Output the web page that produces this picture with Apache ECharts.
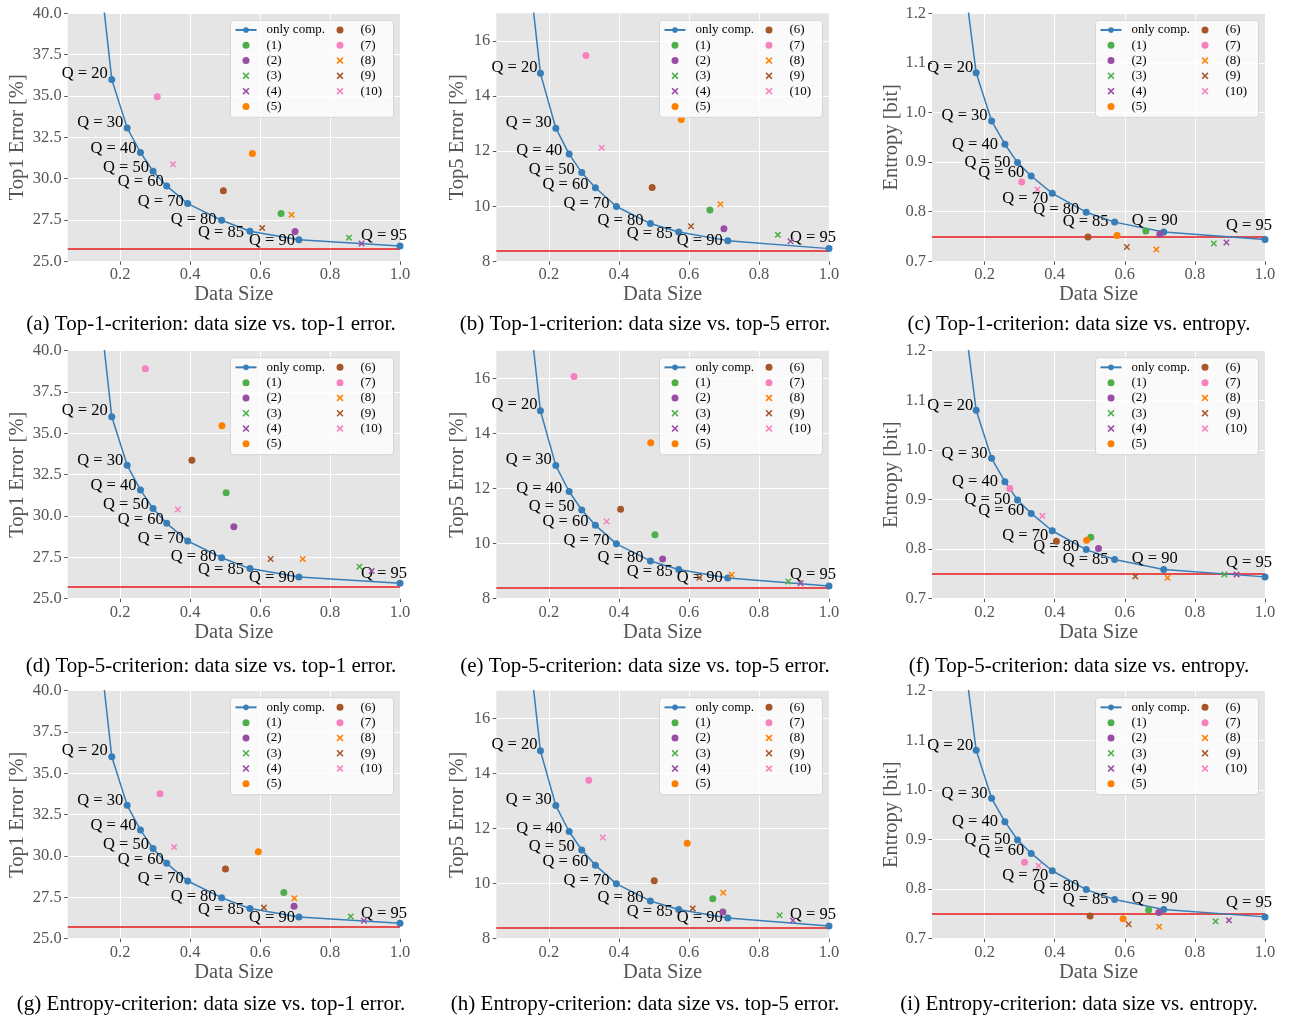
<!DOCTYPE html>
<html>
<head>
<meta charset="utf-8">
<script src="https://cdn.jsdelivr.net/npm/echarts@6/dist/echarts.min.js"></script>
<style>
html,body{margin:0;padding:0;background:#fff;width:1289px;height:1017px;overflow:hidden}
.p{position:absolute}
</style>
</head>
<body>
<div id="panels"></div>
<script>
// ---------------- DATA ----------------
const qualities = [10, 20, 30, 40, 50, 60, 70, 80, 85, 90, 95];
const onlyCompSize = [0.12, 0.176, 0.220, 0.258, 0.294, 0.333, 0.393, 0.490, 0.571, 0.711, 1.0];
const onlyCompTop1 = [46.7, 36.0, 33.07, 31.58, 30.45, 29.56, 28.49, 27.48, 26.82, 26.31, 25.93];
const onlyCompTop5 = [21.2, 14.82, 12.83, 11.89, 11.22, 10.67, 9.99, 9.37, 9.06, 8.75, 8.46];
const onlyCompEntropy = [1.39, 1.080, 0.983, 0.936, 0.899, 0.872, 0.837, 0.799, 0.779, 0.759, 0.744];

const referenceTop1 = 25.73;
const referenceTop5 = 8.39;
const referenceEntropy = 0.748;

const methodNames = ['(1)', '(2)', '(3)', '(4)', '(5)', '(6)', '(7)', '(8)', '(9)', '(10)'];

// Top-1-criterion
const top1CritSize    = [0.660, 0.700, 0.854, 0.890, 0.578, 0.495, 0.306, 0.690, 0.606, 0.351];
const top1CritTop1    = [27.89, 26.80, 26.43, 26.07, 31.52, 29.26, 34.95, 27.81, 27.02, 30.87];
const top1CritTop5    = [9.86, 9.18, 8.96, 8.73, 13.15, 10.68, 15.47, 10.07, 9.27, 12.12];
const top1CritEntropy = [0.761, 0.755, 0.736, 0.738, 0.752, 0.749, 0.860, 0.724, 0.729, 0.845];

// Top-5-criterion
const top5CritSize    = [0.503, 0.525, 0.884, 0.919, 0.491, 0.405, 0.272, 0.722, 0.630, 0.365];
const top5CritTop1    = [31.41, 29.35, 26.94, 26.67, 35.46, 33.37, 38.91, 27.40, 27.40, 30.40];
const top5CritTop5    = [10.32, 9.44, 8.62, 8.56, 13.66, 11.25, 16.06, 8.87, 8.76, 10.80];
const top5CritEntropy = [0.824, 0.801, 0.749, 0.749, 0.818, 0.816, 0.922, 0.742, 0.745, 0.867];

// Entropy-criterion
const entCritSize    = [0.668, 0.697, 0.859, 0.897, 0.595, 0.501, 0.314, 0.698, 0.611, 0.354];
const entCritTop1    = [27.80, 26.96, 26.35, 26.09, 30.26, 29.21, 33.77, 27.44, 26.88, 30.54];
const entCritTop5    = [9.45, 8.97, 8.85, 8.66, 11.46, 10.10, 13.75, 9.67, 9.10, 11.67];
const entCritEntropy = [0.758, 0.753, 0.735, 0.737, 0.740, 0.746, 0.854, 0.724, 0.729, 0.847];

// tick labels
const dataSizeTicks = [0.2, 0.4, 0.6, 0.8, 1.0];
const top1Ticks = [25.0, 27.5, 30.0, 32.5, 35.0, 37.5, 40.0];
const top5Ticks = [8, 10, 12, 14, 16];
const entropyTicks = [0.7, 0.8, 0.9, 1.0, 1.1, 1.2];

const captions = [
  '(a) Top-1-criterion: data size vs. top-1 error.',
  '(b) Top-1-criterion: data size vs. top-5 error.',
  '(c) Top-1-criterion: data size vs. entropy.',
  '(d) Top-5-criterion: data size vs. top-1 error.',
  '(e) Top-5-criterion: data size vs. top-5 error.',
  '(f) Top-5-criterion: data size vs. entropy.',
  '(g) Entropy-criterion: data size vs. top-1 error.',
  '(h) Entropy-criterion: data size vs. top-5 error.',
  '(i) Entropy-criterion: data size vs. entropy.'
];

// ---------------- STYLE / LAYOUT ----------------
const FONT = '"Liberation Serif", "Times New Roman", serif';
const BLUE = '#377eb8';
const REF_RED = '#e41a1c';
const methodColors = ['#4daf4a', '#984ea3', '#4daf4a', '#984ea3', '#ff7f00', '#a65628', '#f781bf', '#ff7f00', '#a65628', '#f781bf'];
const methodIsCross = [false, false, true, true, false, false, false, true, true, true];
const X_PATH = 'path://M0,1.6L1.6,0L5,3.4L8.4,0L10,1.6L6.6,5L10,8.4L8.4,10L5,6.6L1.6,10L0,8.4L3.4,5Z';

const rows = [
  { size: top1CritSize, top1: top1CritTop1, top5: top1CritTop5, entropy: top1CritEntropy },
  { size: top5CritSize, top1: top5CritTop1, top5: top5CritTop5, entropy: top5CritEntropy },
  { size: entCritSize,  top1: entCritTop1,  top5: entCritTop5,  entropy: entCritEntropy }
];

const metrics = [
  { key: 'top1', only: onlyCompTop1, ref: referenceTop1, ticks: top1Ticks, dec: 1, name: 'Top1 Error [%]',
    labelOffsets: [[0,0],[-4,-6],[-4,-5],[-4,-4],[-4,-4],[-3,-4],[-4,-2],[-5,-1],[-6,1],[-4,1],[7,-10]] },
  { key: 'top5', only: onlyCompTop5, ref: referenceTop5, ticks: top5Ticks, dec: 0, max: 17, name: 'Top5 Error [%]',
    labelOffsets: [[0,0],[-3,-6],[-4,-6],[-7,-3],[-7,-3],[-7,-3],[-7,-3],[-7,-3],[-6,2],[-5,0],[7,-11]] },
  { key: 'entropy', only: onlyCompEntropy, ref: referenceEntropy, ticks: entropyTicks, dec: 1, name: 'Entropy [bit]',
    labelOffsets: [[0,0],[-3,-5],[-4,-5],[-7,0],[-7,0],[-7,-3],[-4,5],[-7,-3],[-6,0],[14,-11],[7,-14]] }
];

const colLeft = [0, 430, 860], colWidth = [430, 430, 429];
const rowTop = [0, 340, 680], rowHeight = [340, 340, 337];
const gridLeft = [67.7, 66.3, 72], gridWidth = [332.3, 332.7, 333];
const gridTop = [13.3, 10.7, 10.7], gridHeight = 248;
const capX = [211, 215, 219], capY = [324.3, 326.3, 324.5];
const yNameGap = [40, 28, 30];

function buildOption(r, c) {
  const row = rows[r], m = metrics[c];
  const GL = gridLeft[c], GT = gridTop[r], GW = gridWidth[c];
  const GR = GL + GW;
  const yMin = m.ticks[0];
  const yMax = m.max !== undefined ? m.max : m.ticks[m.ticks.length - 1];

  const series = [];
  series.push({
    type: 'line', name: 'only comp.',
    data: onlyCompSize.map((x, i) => ({
      value: [x, m.only[i]],
      label: { show: m.only[i] <= yMax, formatter: 'Q = ' + qualities[i], offset: m.labelOffsets[i] }
    })),
    symbol: 'circle', symbolSize: 7, showSymbol: true,
    lineStyle: { color: BLUE, width: 1.5 },
    itemStyle: { color: BLUE },
    label: { position: 'inside', align: 'right', verticalAlign: 'middle', color: '#000', fontFamily: FONT, fontSize: 16.5 },
    clip: true, z: 3,
    markLine: {
      silent: true, symbol: 'none', label: { show: false },
      lineStyle: { color: REF_RED, width: 1.6, type: 'solid' },
      data: [{ yAxis: m.ref }],
      z: 2
    }
  });
  methodNames.forEach((nm, i) => {
    series.push({
      type: 'scatter', name: nm,
      data: [[row.size[i], row[m.key][i]]],
      symbol: methodIsCross[i] ? X_PATH : 'circle',
      symbolSize: methodIsCross[i] ? 6.5 : 7,
      symbolKeepAspect: true,
      itemStyle: { color: methodColors[i], opacity: 1 },
      z: 4
    });
  });

  const legendBase = {
    orient: 'vertical', itemWidth: 21, itemHeight: 7, itemGap: 0, padding: 0,
    selectedMode: false, z: 6,
    textStyle: { fontFamily: FONT, fontSize: 13, color: '#000', lineHeight: 15.3, padding: [0, 0, 0, 5] }
  };

  return {
    animation: false,
    title: {
      text: captions[r * 3 + c], left: capX[c], top: capY[r], padding: 0,
      textAlign: 'center', textVerticalAlign: 'middle',
      textStyle: { fontFamily: FONT, fontSize: 21, fontWeight: 'normal', color: '#000' }
    },
    grid: { left: GL, top: GT, width: GW, height: gridHeight, show: true, backgroundColor: '#e5e5e5', borderWidth: 0,
      containLabel: false, outerBoundsMode: 'none' },
    xAxis: {
      type: 'value', min: 0.05, max: 1.0,
      name: 'Data Size', nameLocation: 'middle', nameGap: 23, nameMoveOverlap: false,
      nameTextStyle: { fontFamily: FONT, fontSize: 20.5, color: '#555' },
      axisLine: { show: false },
      axisTick: { show: true, length: 3.5, customValues: dataSizeTicks, lineStyle: { color: '#555', width: 1 } },
      axisLabel: { customValues: dataSizeTicks, margin: 5, fontFamily: FONT, fontSize: 16.5, color: '#555',
        formatter: v => v.toFixed(1) },
      splitLine: { show: true, lineStyle: { color: '#fff', width: 1 } }
    },
    yAxis: {
      type: 'value', min: yMin, max: yMax,
      name: m.name, nameLocation: 'middle', nameGap: yNameGap[c], nameMoveOverlap: false,
      nameTextStyle: { fontFamily: FONT, fontSize: 20.5, color: '#555' },
      axisLine: { show: false },
      axisTick: { show: true, length: 3.5, customValues: m.ticks, lineStyle: { color: '#555', width: 1 } },
      axisLabel: { customValues: m.ticks, margin: 6, fontFamily: FONT, fontSize: 16.5, color: '#555',
        formatter: v => v.toFixed(m.dec) },
      splitLine: { show: true, lineStyle: { color: '#fff', width: 1 } }
    },
    legend: [
      Object.assign({}, legendBase, { data: ['only comp.', '(1)', '(2)', '(3)', '(4)', '(5)'], left: GR - 165.5, top: GT + 9 }),
      Object.assign({}, legendBase, { data: ['(6)', '(7)', '(8)', '(9)', '(10)'], left: GR - 63.5, top: GT + 9 })
    ],
    graphic: [{
      type: 'rect', z: 5, silent: true,
      shape: { x: GR - 169.5, y: GT + 7, width: 163, height: 97, r: 3 },
      style: { fill: 'rgba(255,255,255,0.8)', stroke: '#d6d6d6', lineWidth: 1 }
    }],
    series: series
  };
}

const host = document.getElementById('panels');
for (let r = 0; r < 3; r++) {
  for (let c = 0; c < 3; c++) {
    const d = document.createElement('div');
    d.className = 'p';
    d.style.left = colLeft[c] + 'px';
    d.style.top = rowTop[r] + 'px';
    d.style.width = colWidth[c] + 'px';
    d.style.height = rowHeight[r] + 'px';
    host.appendChild(d);
    const chart = echarts.init(d, null, { renderer: 'canvas' });
    chart.setOption(buildOption(r, c));
  }
}
</script>
</body>
</html>
